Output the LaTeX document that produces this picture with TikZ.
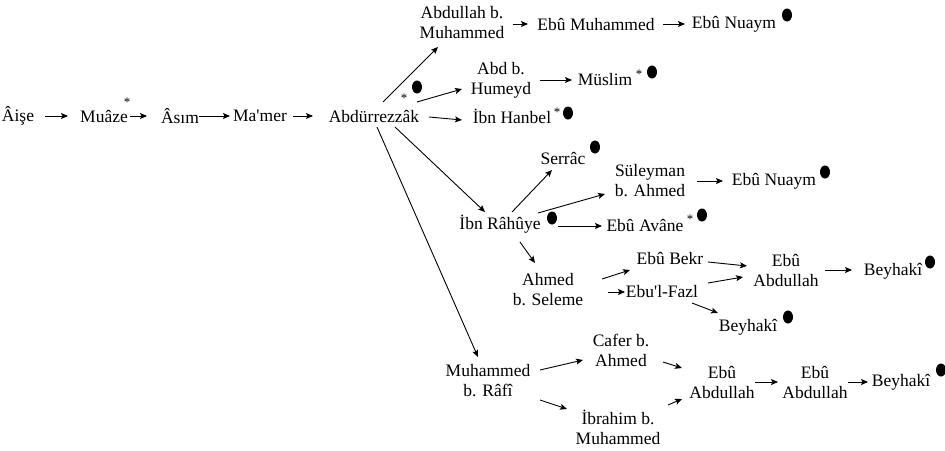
\documentclass[tikz,border=0pt]{standalone}
\usepackage{fontspec}
\setmainfont{Liberation Serif}
\usetikzlibrary{arrows.meta,calc,shapes.geometric}
\tikzset{
  nm/.style={inner sep=0pt, outer sep=0pt, align=center, font=\fontsize{17.5}{20}\selectfont},
  arr/.style={line width=0.9pt, -{Stealth[length=7pt,width=6pt,inset=1.5pt]}},
  dotmark/.style={ellipse, fill=black, minimum width=10pt, minimum height=13pt, inner sep=0pt},
  starmark/.style={inner sep=0pt, font=\fontsize{13}{13}\selectfont}
}
\begin{document}
\begin{tikzpicture}[x=1pt,y=-1pt]
\useasboundingbox[fill=white] (0,0) rectangle (945,450);
% nodes
\node[nm] (aise) at (18,116) {Âişe};
\node[nm] (muaze) at (104,116) {Muâze};
\node[nm] (asim) at (180,116) {Âsım};
\node[nm] (mamer) at (260,116) {Ma\textquotesingle mer};
\node[nm] (abdur) at (374,116) {Abdürrezzâk};
\node[nm] (abdullah) at (462,23) {Abdullah b.\\Muhammed};
\node[nm] (ebumuh) at (596,24) {Ebû Muhammed};
\node[nm] (ebunuaym1) at (734,24) {Ebû Nuaym};
\node[nm] (abd) at (501,80) {Abd b.\\Humeyd};
\node[nm] (muslim) at (605,80) {Müslim};
\node[nm] (ibnhanbel) at (512,116) {İbn Hanbel};
\node[nm] (serrac) at (563,158) {Serrâc};
\node[nm] (suleyman) at (650,181) {Süleyman\\b. Ahmed};
\node[nm] (ebunuaym2) at (774,181) {Ebû Nuaym};
\node[nm] (ibnrahuye) at (500,224) {İbn Râhûye};
\node[nm] (ebuavane) at (645,225) {Ebû Avâne};
\node[nm] (ahmed) at (548,290) {Ahmed\\b. Seleme};
\node[nm] (ebubekr) at (670,258) {Ebû Bekr};
\node[nm] (ebulfazl) at (662,292) {Ebu\textquotesingle l-Fazl};
\node[nm] (ebuabd1) at (786,270) {Ebû\\Abdullah};
\node[nm] (beyhaki1) at (893,271) {Beyhakî};
\node[nm] (beyhaki2) at (748,327) {Beyhakî};
\node[nm] (muhrafi) at (488,381) {Muhammed\\b. Râfî};
\node[nm] (cafer) at (621,350) {Cafer b.\\Ahmed};
\node[nm] (ibrahim) at (618,427) {İbrahim b.\\Muhammed};
\node[nm] (ebuabd2) at (722,382) {Ebû\\Abdullah};
\node[nm] (ebuabd3) at (815,382) {Ebû\\Abdullah};
\node[nm] (beyhaki3) at (901,382) {Beyhakî};
% stars
\node[starmark] (s1) at (127,102) {*};
\node[starmark] (s2) at (404,98) {*};
\node[starmark] (s3) at (639,74) {*};
\node[starmark] (s4) at (557,112) {*};
\node[starmark] (s5) at (690,219) {*};
% dots
\node[dotmark] (d1) at (417,87) {};
\node[dotmark] (d2) at (787,15) {};
\node[dotmark] (d3) at (652,72) {};
\node[dotmark] (d4) at (568,113) {};
\node[dotmark] (d5) at (595,147) {};
\node[dotmark] (d6) at (825,172) {};
\node[dotmark] (d7) at (552,218) {};
\node[dotmark] (d8) at (702,215) {};
\node[dotmark] (d9) at (930,262) {};
\node[dotmark] (d10) at (788,317) {};
\node[dotmark] (d11) at (941,370) {};
% connectors
\draw[arr] ([shift={(27,0)}]aise.center) -- ([shift={(-36,0)}]muaze.center);
\draw[arr] ([shift={(26,0)}]muaze.center) -- ([shift={(-33,0)}]asim.center);
\draw[arr] ([shift={(19,0)}]asim.center) -- ([shift={(-30,0)}]mamer.center);
\draw[arr] ([shift={(33,0)}]mamer.center) -- ([shift={(-61,0)}]abdur.center);
\draw[arr] ([shift={(9,-14)}]abdur.center) -- ([shift={(-24,24)}]abdullah.center);
\draw[arr] ([shift={(43,-14)}]abdur.center) -- ([shift={(-39,9)}]abd.center);
\draw[arr] ([shift={(55,1)}]abdur.center) -- ([shift={(-50,4)}]ibnhanbel.center);
\draw[arr] ([shift={(21,11)}]abdur.center) -- ([shift={(-15,-12)}]ibnrahuye.center);
\draw[arr] ([shift={(3,11)}]abdur.center) -- ([shift={(-10,-24)}]muhrafi.center);
\draw[arr] ([shift={(51,1)}]abdullah.center) -- ([shift={(-68,0)}]ebumuh.center);
\draw[arr] ([shift={(67,0)}]ebumuh.center) -- ([shift={(-49,0)}]ebunuaym1.center);
\draw[arr] ([shift={(39,0)}]abd.center) -- ([shift={(-33,0)}]muslim.center);
\draw[arr] ([shift={(12,-12)}]ibnrahuye.center) -- ([shift={(-11,12)}]serrac.center);
\draw[arr] ([shift={(38,-11)}]ibnrahuye.center) -- ([shift={(-45,13)}]suleyman.center);
\draw[arr] ([shift={(47,0)}]suleyman.center) -- ([shift={(-51,0)}]ebunuaym2.center);
\draw[arr] ([shift={(58,2)}]ibnrahuye.center) -- ([shift={(-43,1)}]ebuavane.center);
\draw[arr] ([shift={(20,18)}]ibnrahuye.center) -- ([shift={(-13,-27)}]ahmed.center);
\draw[arr] ([shift={(54,-11)}]ahmed.center) -- ([shift={(-40,12)}]ebubekr.center);
\draw[arr] ([shift={(60,2)}]ahmed.center) -- ([shift={(-37,0)}]ebulfazl.center);
\draw[arr] ([shift={(38,4)}]ebubekr.center) -- ([shift={(-39,-4)}]ebuabd1.center);
\draw[arr] ([shift={(46,-9)}]ebulfazl.center) -- ([shift={(-43,7)}]ebuabd1.center);
\draw[arr] ([shift={(39,0)}]ebuabd1.center) -- ([shift={(-41,-1)}]beyhaki1.center);
\draw[arr] ([shift={(30,11)}]ebulfazl.center) -- ([shift={(-30,-14)}]beyhaki2.center);
\draw[arr] ([shift={(52,-11)}]muhrafi.center) -- ([shift={(-38,10)}]cafer.center);
\draw[arr] ([shift={(52,19)}]muhrafi.center) -- ([shift={(-51,-18)}]ibrahim.center);
\draw[arr] ([shift={(42,12)}]cafer.center) -- ([shift={(-40,-14)}]ebuabd2.center);
\draw[arr] ([shift={(50,-22)}]ibrahim.center) -- ([shift={(-40,17)}]ebuabd2.center);
\draw[arr] ([shift={(33,0)}]ebuabd2.center) -- ([shift={(-37,0)}]ebuabd3.center);
\draw[arr] ([shift={(33,0)}]ebuabd3.center) -- ([shift={(-33,0)}]beyhaki3.center);
\end{tikzpicture}
\end{document}
